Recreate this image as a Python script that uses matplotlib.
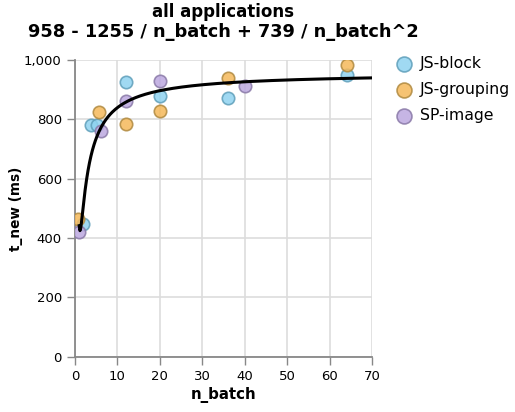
import numpy as np
import matplotlib
matplotlib.use("Agg")
import matplotlib.pyplot as plt
from matplotlib.ticker import FuncFormatter

# measured batches per application
js_block_x = [2.0, 3.7, 5.3, 12, 20, 36, 64]
js_block_y = [446, 782, 780, 925, 880, 874, 949]
js_grouping_x = [0.6, 5.7, 12, 20, 36, 64]
js_grouping_y = [463, 826, 784, 829, 941, 984]
sp_image_x = [0.9, 6.1, 12, 20, 40]
sp_image_y = [420, 762, 863, 930, 914]

# fitted model: a + b / n + c / n^2
fit_a, fit_b, fit_c = 958, -1255, 739

series = [
    ("JS-block", js_block_x, js_block_y, "#8fd3f0", "#5f9fba"),
    ("JS-grouping", js_grouping_x, js_grouping_y, "#f5b95a", "#b08a40"),
    ("SP-image", sp_image_x, sp_image_y, "#bca8e0", "#8a7aa8"),
]

fig = plt.figure(figsize=(5.15, 4.12), dpi=100)
ax = fig.add_axes([0.1456, 0.134, 0.5767, 0.72])

for name, xs, ys, fc, ec in series:
    ax.scatter(xs, ys, s=80, facecolor=fc, edgecolor=ec, linewidth=1.2,
               alpha=0.85, label=name, zorder=3)

n = np.linspace(1, 70, 400)
ax.plot(n, fit_a + fit_b / n + fit_c / n ** 2, color="black", lw=2.2, zorder=4)

ax.set_xlim(0, 70)
ax.set_ylim(0, 1000)
ax.set_xticks(range(0, 71, 10))
ax.set_yticks(range(0, 1001, 200))
ax.yaxis.set_major_formatter(FuncFormatter(lambda v, p: f"{int(v):,}"))
ax.grid(True, color="#dddddd", lw=1.2, zorder=0)
ax.set_axisbelow(True)
for s in ["top", "right"]:
    ax.spines[s].set_visible(False)
for s in ["left", "bottom"]:
    ax.spines[s].set_color("#888888")
    ax.spines[s].set_linewidth(1.3)
ax.tick_params(colors="#888888", length=6, width=1, labelcolor="black", labelsize=9.5)

ax.set_xlabel("n_batch", fontsize=10.8, fontweight="bold", labelpad=3)
ax.set_ylabel("t_new (ms)", fontsize=9.8, fontweight="bold")
ax.yaxis.set_label_coords(-0.175, 0.5)

fig.text(223 / 515, 1 - 12 / 412, "all applications", ha="center", va="center",
         fontsize=12, fontweight="bold")
fig.text(223 / 515, 1 - 32 / 412, "958 - 1255 / n_batch + 739 / n_batch^2",
         ha="center", va="center", fontsize=12.8, fontweight="bold")

ax.legend(loc="upper left", bbox_to_anchor=(0.742, 0.88), bbox_transform=fig.transFigure,
          frameon=False, fontsize=11.3, handletextpad=0.0, labelspacing=0.72,
          borderaxespad=0, scatterpoints=1, markerscale=1.2)

fig.savefig("out.png", dpi=100)
